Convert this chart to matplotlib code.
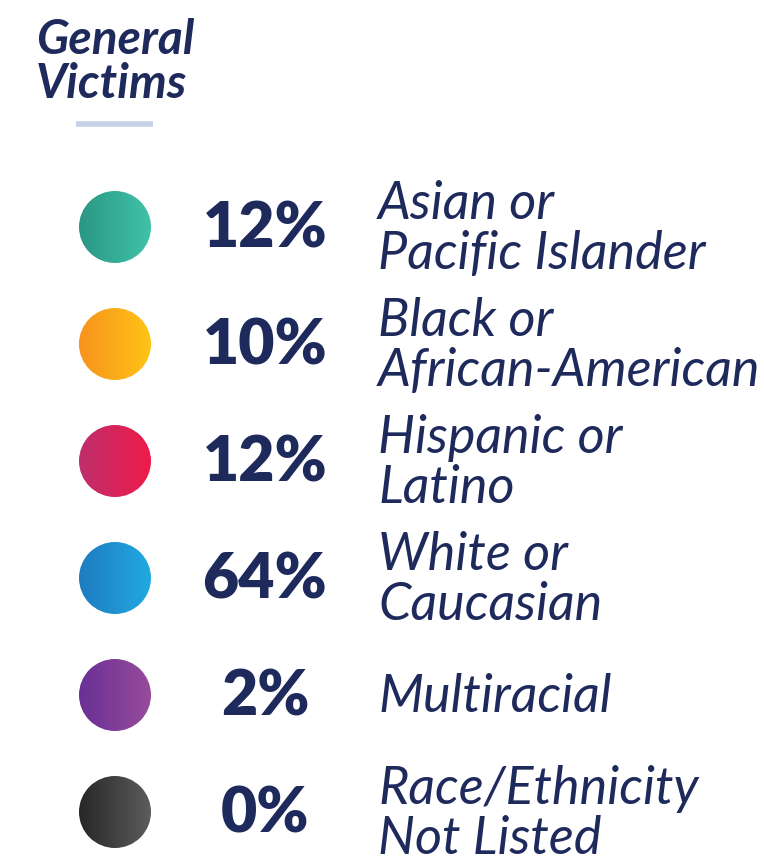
import numpy as np
import matplotlib.pyplot as plt
from matplotlib.patches import Circle
from matplotlib.colors import LinearSegmentedColormap

# --- Daten ---
title = "General\nVictims"
percents = ["12%", "10%", "12%", "64%", "2%", "0%"]
labels = ["Asian or\nPacific Islander", "Black or\nAfrican-American", "Hispanic or\nLatino",
          "White or\nCaucasian", "Multiracial", "Race/Ethnicity\nNot Listed"]
grad_left = ["#2a9783", "#f7931e", "#be2f6c", "#1e7cbf", "#693095", "#272727"]
grad_right = ["#41c2a9", "#ffc416", "#ef1b4a", "#22a9e1", "#974b9a", "#5c5c5e"]

NAVY = "#1f2a5c"
W, H = 764, 859

fig = plt.figure(figsize=(W / 100, H / 100), dpi=100)
ax = fig.add_axes([0, 0, 1, 1])
ax.set_xlim(0, W)
ax.set_ylim(H, 0)
ax.axis("off")

ax.text(36, 62, title, fontsize=34.5, fontweight="bold", fontstyle="italic",
        family=["Lato", "DejaVu Sans"], color=NAVY, ha="left", va="center", linespacing=1.0)
ax.plot([76, 153], [124, 124], color="#c8d2e6", lw=4, solid_capstyle="butt")

y0, dy, r, cx = 227, 117, 36, 115
grad = np.linspace(0, 1, 256).reshape(1, -1)
for i, (p, lab) in enumerate(zip(percents, labels)):
    cy = y0 + i * dy
    cmap = LinearSegmentedColormap.from_list(f"g{i}", [grad_left[i], grad_right[i]])
    circ = Circle((cx, cy), r, transform=ax.transData, facecolor="none", edgecolor="none")
    ax.add_patch(circ)
    im = ax.imshow(grad, cmap=cmap, extent=[cx - r, cx + r, cy + r, cy - r],
                   aspect="auto", interpolation="bilinear")
    im.set_clip_path(circ)
    ax.text(265, cy + 2, p, fontsize=45, fontweight="heavy", family=["Lato", "DejaVu Sans"],
            color=NAVY, ha="center", va="center")
    ax.text(378, cy + 2, lab, fontsize=37.5, fontstyle="italic", family=["Lato", "DejaVu Sans"],
            color=NAVY, ha="left", va="center", linespacing=1.05)

ax.set_xlim(0, W)
ax.set_ylim(H, 0)
fig.savefig("out.png", dpi=100, facecolor="white")
